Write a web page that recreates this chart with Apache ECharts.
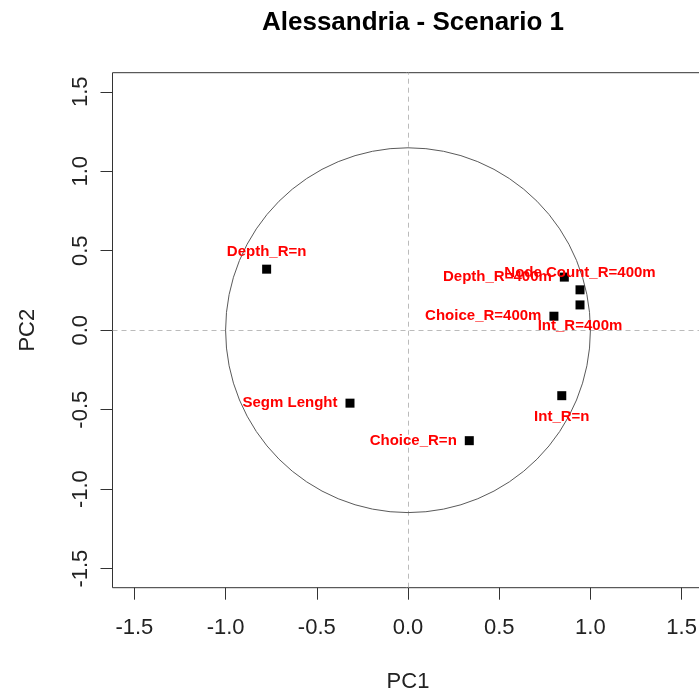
<!DOCTYPE html>
<html>
<head>
<meta charset="utf-8">
<script src="https://cdn.jsdelivr.net/npm/echarts@6/dist/echarts.min.js"></script>
<style>
  html, body { margin: 0; padding: 0; background: #ffffff; }
  #chart { width: 699px; height: 692px; }
</style>
</head>
<body>
<div id="chart"></div>
<script>
// Variable loadings on the first two principal components
const variables = ['Depth_R=n', 'Segm Lenght', 'Choice_R=n', 'Int_R=n',
                   'Choice_R=400m', 'Depth_R=400m', 'Node Count_R=400m', 'Int_R=400m'];
const pc1 = [-0.775, -0.318, 0.336, 0.843, 0.800, 0.857, 0.943, 0.943];
const pc2 = [0.384, -0.459, -0.695, -0.412, 0.088, 0.334, 0.254, 0.159];
const tickValues = [-1.5, -1.0, -0.5, 0.0, 0.5, 1.0, 1.5];

// which side of its square each variable name sits on
const labelSide = {
  'Depth_R=n': 'top', 'Segm Lenght': 'left', 'Choice_R=n': 'left', 'Int_R=n': 'bottom',
  'Choice_R=400m': 'left', 'Depth_R=400m': 'left', 'Node Count_R=400m': 'top', 'Int_R=400m': 'bottom'
};
const sideDistance = { top: 5, left: 8, bottom: 9 };

const FONT = "'Liberation Sans', Arial, Helvetica, sans-serif";
const chart = echarts.init(document.getElementById('chart'), null, { renderer: 'canvas' });

const points = variables.map((name, i) => {
  const side = labelSide[name];
  return {
    name: name,
    value: [pc1[i], pc2[i]],
    label: { position: side, distance: sideDistance[side], offset: side === 'left' ? [0, 1] : [0, 0] }
  };
});

function axisCommon(name, isY) {
  return {
    type: 'value',
    min: -1.62,
    max: 1.62,
    name: name,
    nameLocation: 'middle',
    nameGap: isY ? 74 : 83,
    nameRotate: isY ? 90 : 0,
    nameTextStyle: { fontFamily: FONT, fontSize: 22, color: '#222' },
    axisLine: { show: false, onZero: false },
    axisTick: {
      show: true, inside: false, length: 12,
      customValues: tickValues,
      lineStyle: { color: '#333', width: 1 }
    },
    axisLabel: {
      show: true,
      customValues: tickValues,
      rotate: isY ? 90 : 0,
      margin: isY ? 21 : 29,
      fontFamily: FONT, fontSize: 22, color: '#222',
      formatter: v => v.toFixed(1)
    },
    splitLine: { show: false }
  };
}

const option = {
  backgroundColor: '#ffffff',
  animation: false,
  title: {
    text: 'Alessandria - Scenario 1',
    left: 408,
    top: 5,
    textAlign: 'center',
    textStyle: { fontFamily: FONT, fontSize: 26, fontWeight: 'bold', color: '#000' }
  },
  grid: {
    left: 112.5, top: 72.7, width: 591, height: 515,
    outerBoundsMode: 'none',
    containLabel: false,
    show: true, borderColor: '#333', borderWidth: 1, backgroundColor: 'transparent'
  },
  xAxis: axisCommon('PC1', false),
  yAxis: axisCommon('PC2', true),
  series: [
    {
      // unit correlation circle, radius measured in PC1 units
      type: 'custom',
      coordinateSystem: 'cartesian2d',
      clip: true,
      silent: true,
      data: [[0, 0]],
      renderItem: function (params, api) {
        const c = api.coord([api.value(0), api.value(1)]);
        const r = api.size([1, 0])[0];
        return {
          type: 'circle',
          shape: { cx: c[0], cy: c[1], r: r },
          style: { fill: 'none', stroke: '#5a5a5a', lineWidth: 1 }
        };
      },
      z: 1
    },
    {
      type: 'scatter',
      symbol: 'rect',
      symbolSize: 9,
      itemStyle: { color: '#000', opacity: 1 },
      data: points,
      label: {
        show: true,
        formatter: '{b}',
        fontFamily: FONT,
        fontSize: 15,
        fontWeight: 'bold',
        color: '#ff0000',
        opacity: 1,
        lineHeight: 15
      },
      labelLayout: { hideOverlap: false },
      markLine: {
        silent: true,
        symbol: ['none', 'none'],
        label: { show: false },
        lineStyle: { color: '#bbbbbb', type: [5, 4], width: 1, opacity: 1 },
        data: [{ xAxis: 0 }, { yAxis: 0 }],
        z: 0
      },
      z: 3
    }
  ]
};

chart.setOption(option);
</script>
</body>
</html>
